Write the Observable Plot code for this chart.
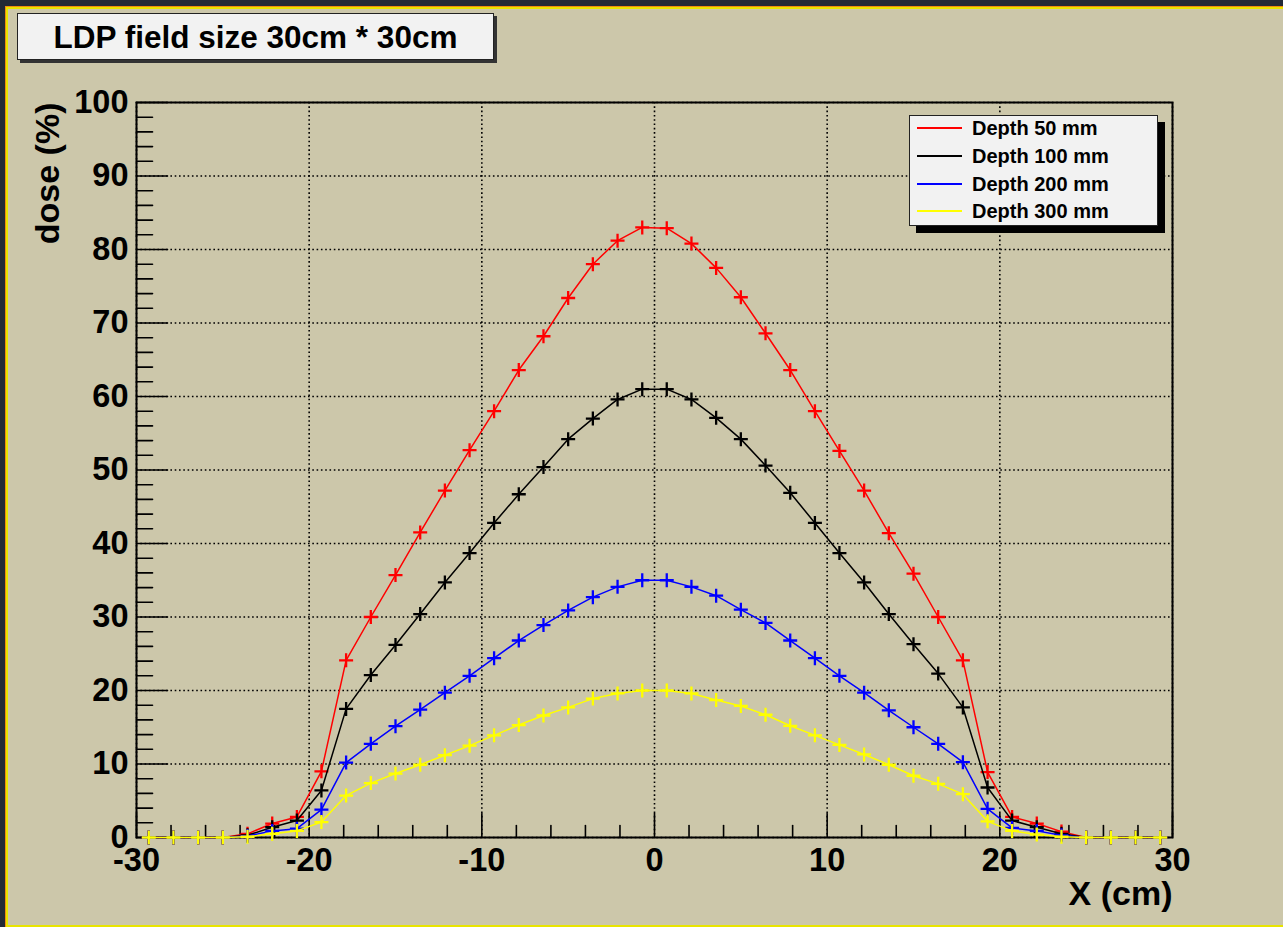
<!DOCTYPE html>
<html>
<head>
<meta charset="utf-8">
<script src="https://cdn.jsdelivr.net/npm/d3@7"></script>
<script src="https://cdn.jsdelivr.net/npm/@observablehq/plot@0.6"></script>
<style>
  html, body { margin: 0; padding: 0; }
  body { width: 1283px; height: 927px; background: #232a35; position: relative; overflow: hidden;
         font-family: "Liberation Sans", Arial, sans-serif; }
  #orange { position: absolute; left: 5px; top: 6px; width: 1278px; height: 921px; background: #f08c10; }
  #yellow { position: absolute; left: 6px; top: 7px; width: 1277px; height: 920px; background: #e8e400; }
  #canvas { position: absolute; left: 8px; top: 9px; width: 1275px; height: 916px; background: #ccc7aa; }
  #chart { position: absolute; left: 0; top: 0; }
  #title { position: absolute; left: 17px; top: 13px; width: 475px; height: 45px; background: #f2f2f2;
           border: 1px solid #222; box-shadow: 3px 3px 0 #333; font-weight: bold; font-size: 31.5px;
           text-align: center; line-height: 47px; color: #000; white-space: nowrap; }
  #legend { position: absolute; left: 909px; top: 115px; width: 247px; height: 109px; background: #f2f2f2;
            border: 1px solid #222; box-shadow: 7px 7px 0 #000; }
  #legend .row { position: absolute; left: 0; height: 24px; width: 247px; }
  #legend .swatch { position: absolute; left: 7px; top: 11px; width: 45px; height: 0; border-top: 2px solid #000; }
  #legend .lab { position: absolute; left: 62px; top: 0; line-height: 24px; font-size: 20px; font-weight: bold; color: #000; white-space: nowrap; }
</style>
</head>
<body>
<div id="orange"></div>
<div id="yellow"></div>
<div id="canvas"></div>
<div id="chart"></div>
<div id="title"></div>
<div id="legend"></div>
<script>
// ---- data ----
const xValues = [-29.29, -27.86, -26.43, -25.00, -23.57, -22.14, -20.71, -19.29, -17.86, -16.43,
                 -15.00, -13.57, -12.14, -10.71, -9.29, -7.86, -6.43, -5.00, -3.57, -2.14,
                 -0.71, 0.71, 2.14, 3.57, 5.00, 6.43, 7.86, 9.29, 10.71, 12.14,
                 13.57, 15.00, 16.43, 17.86, 19.29, 20.71, 22.14, 23.57, 25.00, 26.43,
                 27.86, 29.29];

const depth50 = [0, 0, 0, 0, 0.5, 1.9, 2.8, 9.0, 24.1, 30.0,
                 35.7, 41.5, 47.2, 52.7, 58.0, 63.6, 68.2, 73.4, 78.0, 81.2,
                 83.0, 82.9, 80.8, 77.5, 73.5, 68.6, 63.6, 58.0, 52.6, 47.2,
                 41.4, 35.9, 30.0, 24.1, 8.9, 2.8, 1.9, 0.8, 0, 0,
                 0, 0];
const depth100 = [0, 0, 0, 0, 0.3, 1.4, 2.3, 6.4, 17.5, 22.1,
                  26.2, 30.4, 34.7, 38.7, 42.8, 46.7, 50.4, 54.2, 57.0, 59.6,
                  61.0, 61.0, 59.6, 57.1, 54.2, 50.6, 46.9, 42.8, 38.7, 34.7,
                  30.4, 26.3, 22.3, 17.7, 6.8, 2.3, 1.4, 0.5, 0, 0,
                  0, 0];
const depth200 = [0, 0, 0, 0, 0.2, 0.9, 1.2, 3.8, 10.2, 12.75,
                  15.15, 17.4, 19.7, 22.0, 24.4, 26.8, 28.9, 30.9, 32.7, 34.1,
                  35.0, 35.0, 34.1, 32.9, 31.0, 29.2, 26.8, 24.4, 22.0, 19.7,
                  17.3, 15.0, 12.75, 10.25, 3.9, 1.3, 0.9, 0.3, 0, 0,
                  0, 0];
const depth300 = [0, 0, 0, 0, 0.1, 0.5, 0.9, 2.1, 5.7, 7.4,
                  8.7, 9.9, 11.2, 12.5, 13.9, 15.3, 16.6, 17.7, 18.9, 19.6,
                  20.0, 20.0, 19.6, 18.7, 17.9, 16.7, 15.2, 13.9, 12.6, 11.3,
                  9.9, 8.4, 7.3, 5.9, 2.2, 0.9, 0.4, 0.1, 0, 0,
                  0, 0];

const seriesNames = ["Depth 50 mm", "Depth 100 mm", "Depth 200 mm", "Depth 300 mm"];
const seriesColors = ["#ff0000", "#000000", "#0000ff", "#ffff00"];
const seriesValues = [depth50, depth100, depth200, depth300];

const xTicks = [-30, -20, -10, 0, 10, 20, 30];
const yTicks = [0, 10, 20, 30, 40, 50, 60, 70, 80, 90, 100];
const xDomain = [-30, 30];
const yDomain = [0, 100];
const titleText = "LDP field size 30cm * 30cm";
const xLabel = "X (cm)";
const yLabel = "dose (%)";

// ---- derived tick sets ----
const xMinor = d3.range(xDomain[0], xDomain[1] + 0.001, 2).filter(d => !xTicks.includes(d));
const yMinor = d3.range(yDomain[0], yDomain[1] + 0.001, 2).filter(d => !yTicks.includes(d));

const tickShape = { draw(context, l) { context.moveTo(0, 0); context.lineTo(0, -l); } };
const plusSymbol = { draw(context, size) {
  const r = Math.sqrt(size / Math.PI);
  context.moveTo(-r, 0); context.lineTo(r, 0);
  context.moveTo(0, -r); context.lineTo(0, r);
} };

const tickFont = { fontSize: 32.5, fontWeight: "bold", fill: "#000" };
const titleFont = { fontSize: 34, fontWeight: "bold", fill: "#000" };

const seriesMarks = seriesValues.flatMap((vals, k) => [
  Plot.line(vals, { x: (d, i) => xValues[i], y: d => d, stroke: seriesColors[k], strokeWidth: 1.5 }),
  Plot.dot(vals, { x: (d, i) => xValues[i], y: d => d, symbol: plusSymbol, r: 7, fill: "none",
                   stroke: seriesColors[k], strokeWidth: 2.3 })
]);

const chart = Plot.plot({
  width: 1283,
  height: 927,
  marginLeft: 136,
  marginRight: 111,
  marginTop: 102,
  marginBottom: 90,
  x: { domain: xDomain },
  y: { domain: yDomain },
  style: { background: "transparent", fontFamily: "'Liberation Sans', Arial, sans-serif", overflow: "visible" },
  marks: [
    Plot.gridX(xTicks, { stroke: "#000", strokeOpacity: 1, strokeWidth: 1.6, strokeDasharray: "1.6,2.7" }),
    Plot.gridY(yTicks, { stroke: "#000", strokeOpacity: 1, strokeWidth: 1.6, strokeDasharray: "1.6,2.7" }),
    Plot.frame({ stroke: "#000", strokeWidth: 2 }),
    Plot.vector(yTicks, { y: d => d, frameAnchor: "left", length: 31, rotate: 90, anchor: "start",
                          shape: tickShape, stroke: "#000", strokeWidth: 1.6 }),
    Plot.vector(yMinor, { y: d => d, frameAnchor: "left", length: 16, rotate: 90, anchor: "start",
                          shape: tickShape, stroke: "#000", strokeWidth: 1.6 }),
    Plot.vector(xTicks, { x: d => d, frameAnchor: "bottom", length: 24, rotate: 0, anchor: "start",
                          shape: tickShape, stroke: "#000", strokeWidth: 1.6 }),
    Plot.vector(xMinor, { x: d => d, frameAnchor: "bottom", length: 12, rotate: 0, anchor: "start",
                          shape: tickShape, stroke: "#000", strokeWidth: 1.6 }),
    Plot.axisX({ ticks: xTicks, tickSize: 0, tickPadding: 10, label: null, tickFormat: d => String(d), ...tickFont }),
    Plot.axisY({ ticks: yTicks, tickSize: 0, tickPadding: 8, label: null, tickFormat: d => String(d), ...tickFont }),
    Plot.text([xLabel], { frameAnchor: "bottom-right", text: d => d, textAnchor: "end", lineAnchor: "bottom", dy: 67, ...titleFont }),
    Plot.text([yLabel], { frameAnchor: "top-left", text: d => d, rotate: -90, textAnchor: "end", lineAnchor: "middle", dx: -88, ...titleFont }),
    ...seriesMarks
  ]
});
document.getElementById("chart").appendChild(chart);

document.getElementById("title").textContent = titleText;

// legend
const legend = document.getElementById("legend");
const rowTops = [0, 28, 56, 83];
seriesNames.forEach((name, k) => {
  const row = document.createElement("div");
  row.className = "row";
  row.style.top = rowTops[k] + "px";
  const sw = document.createElement("div");
  sw.className = "swatch";
  sw.style.borderTopColor = seriesColors[k];
  const lab = document.createElement("div");
  lab.className = "lab";
  lab.textContent = name;
  row.appendChild(sw); row.appendChild(lab);
  legend.appendChild(row);
});
</script>
</body>
</html>
